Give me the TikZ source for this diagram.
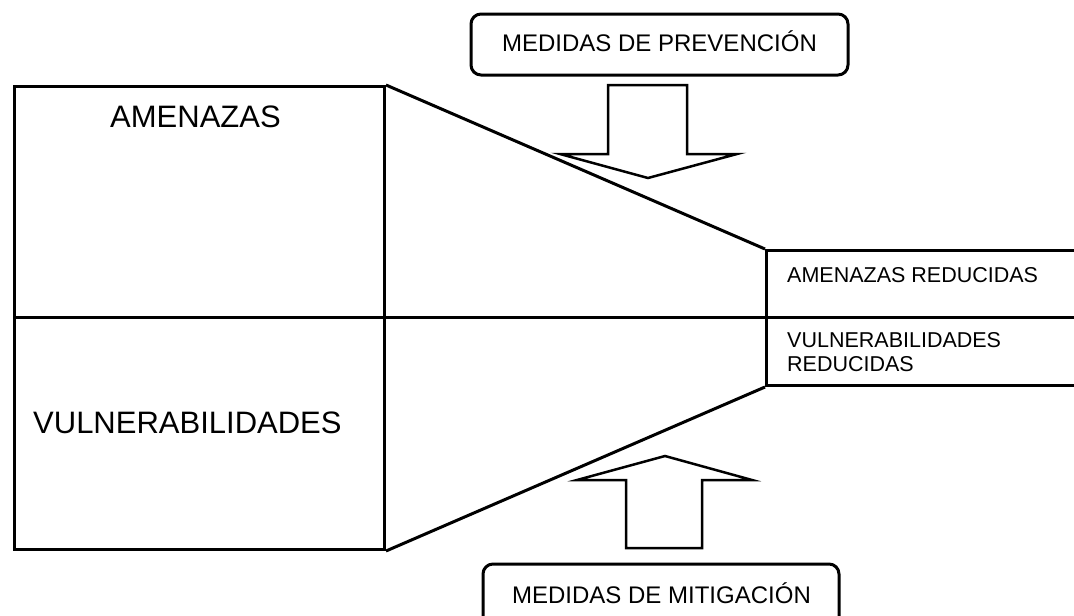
\documentclass[tikz,border=0pt]{standalone}
\usepackage{fontspec}
\setmainfont{Liberation Sans}
\begin{document}
\begin{tikzpicture}[x=1pt,y=-1pt,line join=miter,
  box/.style={draw=black,line width=3pt,inner sep=0pt},
  edge/.style={draw=black,line width=3pt},
  blockarrow/.style={draw=black,fill=white,line width=2.5pt,line join=miter},
  bigtxt/.style={font=\fontsize{31}{36}\selectfont,inner sep=0pt},
  smalltxt/.style={font=\fontsize{21.5}{24}\selectfont,inner sep=0pt,align=left},
  medtxt/.style={font=\fontsize{24}{28}\selectfont,inner sep=0pt}]
\useasboundingbox (0,0) rectangle (1074,616);
\clip (0,0) rectangle (1074,616);
% main boxes
\node[box,minimum width=370pt,minimum height=463pt,anchor=north west] (left) at (13,85) {};
\node[box,minimum width=320pt,minimum height=135pt,anchor=north west] (right) at (765,249) {};
\coordinate (mR) at (1080,317);
\draw[edge] (left.west |- mR) -- (mR);
\draw[edge] (left.north east) -- (right.north west);
\draw[edge] (left.south east) -- (right.south west);
% texts
\node[bigtxt,anchor=base west] (amen) at (110,127) {AMENAZAS};
\node[bigtxt,anchor=base west] (vuln) at (33,433) {VULNERABILIDADES};
\node[smalltxt,anchor=base west] (amred) at (787,282) {AMENAZAS REDUCIDAS};
\node[smalltxt,anchor=north west] (vulred) at (787,332.6) {VULNERABILIDADES\\REDUCIDAS};
% top box
\node[box,rounded corners=10pt,minimum width=377pt,minimum height=61pt,medtxt,text height=17pt,text depth=4pt] (prev) at (659.5,44.5) {MEDIDAS DE PREVENCIÓN};
% bottom box
\node[medtxt,anchor=base] (mit) at (661.5,603) {MEDIDAS DE MITIGACIÓN};
\draw[edge,rounded corners=10pt] (483,640) |- (839,564) -- (839,640);
% block arrows
\draw[blockarrow] (608,85) -- (687,85) -- (687,154) -- (737,154) -- (648,178) -- (560,154) -- (608,154) -- cycle;
\draw[blockarrow] (626,548) -- (702,548) -- (702,480) -- (752,480) -- (665,456) -- (577,480) -- (626,480) -- cycle;
\end{tikzpicture}
\end{document}
